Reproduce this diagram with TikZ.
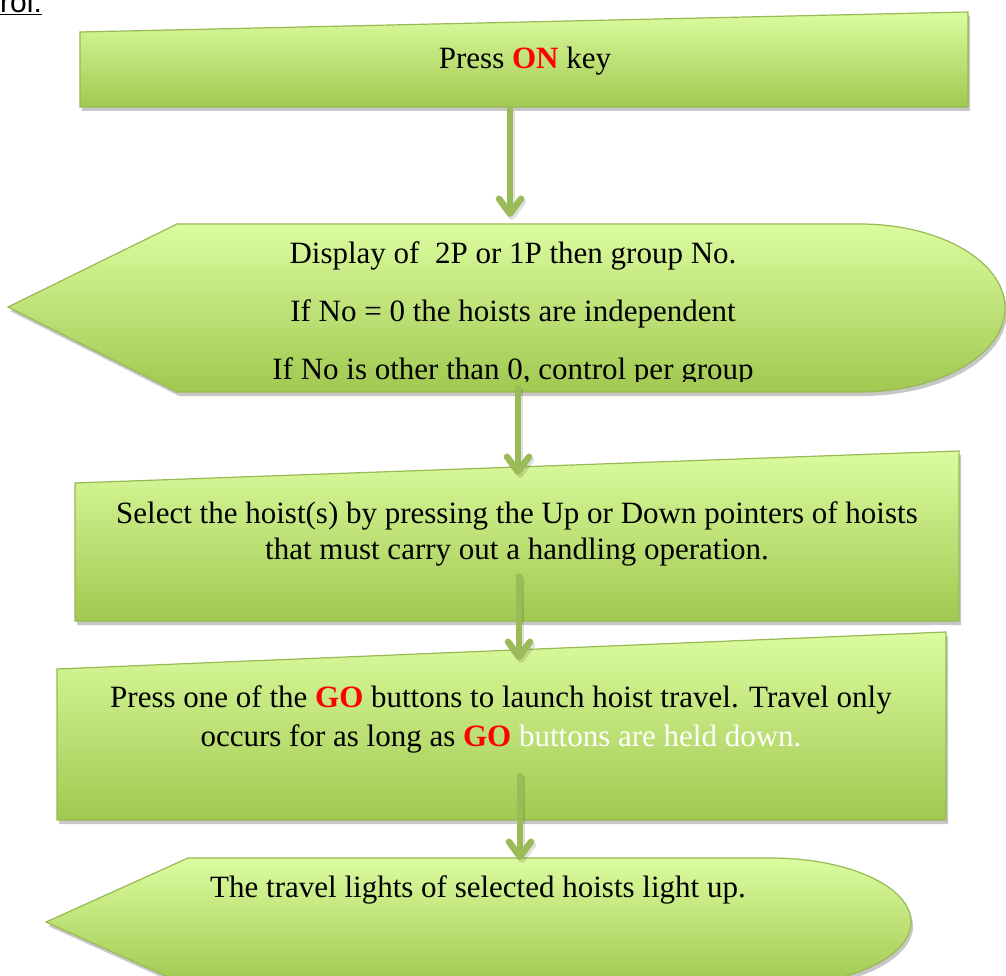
\documentclass[tikz,border=0pt]{standalone}
\usepackage{fontspec}
\setmainfont{Liberation Serif}
\newfontfamily\arialfont{Liberation Sans}
\usetikzlibrary{arrows.meta,shadows}
\definecolor{gtop}{RGB}{219,252,159}
\definecolor{gbot}{RGB}{161,200,80}
\definecolor{gline}{RGB}{152,185,84}
\definecolor{arrowc}{RGB}{155,187,89}
\definecolor{hotred}{RGB}{255,0,0}
\tikzset{
  flowshape/.style={draw=gline, line width=1.2pt, top color=gtop, bottom color=gbot,
    drop shadow={shadow xshift=2pt, shadow yshift=-4pt, opacity=0.22, fill=black}},
  flowtext/.style={font=\fontsize{31}{36}\selectfont, align=center, inner sep=0pt},
  flowarrow/.style={draw=arrowc, line width=6.5pt,
    -{Straight Barb[length=15pt,width=22pt,round]}},
  arrowshadow/.style={draw=black, opacity=0.12, line width=6.5pt,
    -{Straight Barb[length=15pt,width=22pt,round]}},
}
\begin{document}
\begin{tikzpicture}[x=1pt,y=-1pt]
\clip (0,0) rectangle (1006,976);
% heading fragment
\node[anchor=base west, inner sep=0pt, font=\arialfont\fontsize{30}{34}\selectfont] (head) at (0,13) {\underline{rol:}};
% shapes
\path[flowshape] (80,32) -- (968,12) -- (968,107) -- (80,107) -- cycle;
\path[flowshape] (177,224) -- (860,224) arc[start angle=-90, end angle=90, x radius=145, y radius=84] -- (177,392) -- (8,307) -- cycle;
\path[flowshape] (75,483) -- (959,451) -- (959,621) -- (75,621) -- cycle;
\path[flowshape] (57,669) -- (946,632) -- (946,820) -- (57,820) -- cycle;
\path[flowshape] (188,858) -- (771,858) arc[start angle=-90, end angle=90, x radius=140, y radius=64] -- (188,986) -- (46,922) -- cycle;
% texts
\node[flowtext, anchor=base] (t1) at (525,69) {Press \textcolor{hotred}{\textbf{ON}} key};
\begin{scope}
\clip (0,0) rectangle (1006,381);
\node[flowtext, anchor=base] (t2a) at (513,264) {Display of \ 2P or 1P then group No.};
\node[flowtext, anchor=base] (t2b) at (513,321) {If No = 0 the hoists are independent};
\node[flowtext, anchor=base] (t2c) at (513,379) {If No is other than 0, control per group};
\end{scope}
\node[flowtext, anchor=base] (t3) at (517,559) {Select the hoist(s) by pressing the Up or Down pointers of hoists\\that must carry out a handling operation.};
\node[flowtext, font=\fontsize{31}{39}\selectfont, anchor=base] (t4) at (501,746) {Press one of the \textcolor{hotred}{\textbf{GO}} buttons to launch hoist travel. Travel only\\occurs for as long as \textcolor{hotred}{\textbf{GO}} \textcolor{white}{buttons are held down.}};
\node[flowtext, anchor=base] (t5) at (478,897) {The travel lights of selected hoists light up.};
% connector end points
\coordinate (a1s) at (510,108);
\coordinate (a1e) at (510,217);
\coordinate (a2s) at (518,386);
\coordinate (a2e) at (518,475);
\coordinate (a3s) at (519,574);
\coordinate (a3e) at (519,660);
\coordinate (a4s) at (520,773);
\coordinate (a4e) at (520,860);
\foreach \s/\e in {a1s/a1e,a2s/a2e,a3s/a3e,a4s/a4e}{
  \draw[arrowshadow] ([shift={(2,3)}]\s) -- ([shift={(2,3)}]\e);
  \draw[flowarrow] (\s) -- (\e);
}
\end{tikzpicture}
\end{document}
